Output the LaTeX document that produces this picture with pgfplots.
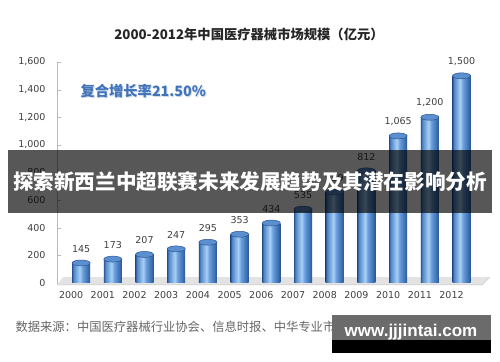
\documentclass[border=0pt]{standalone}
\usepackage{fontspec}
\setmainfont{DejaVu Sans}
\newfontfamily\cjk{Noto Sans CJK SC}
\newfontfamily\wm{Liberation Sans}
\usepackage{pgfplots}
\pgfplotsset{compat=1.18}
\definecolor{cA}{HTML}{2A5591}
\definecolor{cB}{HTML}{4F86C9}
\definecolor{cC}{HTML}{A9D0F5}
\definecolor{cB2}{HTML}{6A9EDC}
\definecolor{cD}{HTML}{3B6DB0}
\definecolor{cTop}{HTML}{5B8FD0}
\definecolor{annblue}{HTML}{4173B8}
\definecolor{lab}{HTML}{404040}
\pgfdeclarehorizontalshading{cyl}{100bp}{color(0bp)=(cA); color(25bp)=(cA); color(29bp)=(cB); color(46bp)=(cC); color(54bp)=(cB2); color(69bp)=(cD); color(75bp)=(cA); color(100bp)=(cA)}
\pgfplotsset{cylbar/.style={ybar, bar width=18bp, bar shift=0pt, draw=none, shading=cyl, forget plot}}
\begin{document}
\begin{tikzpicture}
\path[use as bounding box, fill=white] (0,0) rectangle (500bp,362bp);
\begin{axis}[
  at={(57bp,79bp)}, anchor=south west,
  scale only axis, width=428bp, height=221bp,
  xmin=-0.76, xmax=12.74, ymin=0, ymax=1600,
  clip=false,
  axis lines*=left,
  x axis line style={draw=none},
  y axis line style={draw=gray!55},
  ytick={0,200,...,1600},
  xtick={0,...,12},
  xticklabels={2000,2001,2002,2003,2004,2005,2006,2007,2008,2009,2010,2011,2012},
  major x tick style={draw=none},
  major y tick style={draw=gray!55},
  major tick length=4bp,
  /pgf/number format/assume math mode=true,
  tick label style={font=\fontsize{9.5bp}{11bp}\selectfont, text=lab},
  yticklabel style={xshift=-8bp},
  xticklabel style={xshift=-10bp, yshift=-5bp},
]
\fill[gray!22] (axis cs:-0.57,43) -- (axis cs:12.9,43) -- (axis cs:12.65,-14) -- (axis cs:-0.76,-14) -- cycle;
\draw[gray!45] (axis cs:-0.76,-14) -- (axis cs:12.65,-14) -- (axis cs:12.9,43);
\addplot[cylbar] coordinates {(0,145)};
\addplot[cylbar] coordinates {(1,173)};
\addplot[cylbar] coordinates {(2,207)};
\addplot[cylbar] coordinates {(3,247)};
\addplot[cylbar] coordinates {(4,295)};
\addplot[cylbar] coordinates {(5,353)};
\addplot[cylbar] coordinates {(6,434)};
\addplot[cylbar] coordinates {(7,535)};
\addplot[cylbar] coordinates {(8,659)};
\addplot[cylbar] coordinates {(9,812)};
\addplot[cylbar] coordinates {(10,1065)};
\addplot[cylbar] coordinates {(11,1200)};
\addplot[cylbar] coordinates {(12,1500)};
\addplot[only marks, mark=*, mark size=9bp, mark options={yscale=0.33, fill=cTop, draw=cA, line width=0.5bp},
  nodes near coords, every node near coord/.style={font=\fontsize{9.5bp}{11bp}\selectfont, text=lab, yshift=7bp}]
coordinates {
(0,145) (1,173) (2,207) (3,247) (4,295) (5,353) (6,434) (7,535) (8,659) (9,812) (10,1065) (11,1200) (12,1500)};
\end{axis}
\node[font=\cjk\bfseries\fontsize{13.3bp}{15bp}\selectfont, text=black!85] at (249bp,328bp) {2000-2012年中国医疗器械市场规模（亿元）};
\node[anchor=west, font=\cjk\bfseries\fontsize{14.3bp}{17bp}\selectfont, text=annblue!40, opacity=0.6] at (78bp,269.5bp) {复合增长率21.50\%};
\node[anchor=west, font=\cjk\bfseries\fontsize{14.3bp}{17bp}\selectfont, text=annblue] at (77bp,271bp) {复合增长率21.50\%};
\fill[black, opacity=0.66] (8bp,149bp) rectangle (492bp,212bp);
\node[font=\cjk\bfseries\fontsize{20.6bp}{24bp}\selectfont, text=white, inner sep=0pt] at (250bp,180.5bp) {探索新西兰中超联赛未来发展趋势及其潜在影响分析};
\node[anchor=west, font=\cjk\fontsize{12.3bp}{14bp}\selectfont, text=black!60] at (12bp,35bp) {数据来源：中国医疗器械行业协会、信息时报、中华专业市场网};
\fill[black!58] (332bp,22bp) rectangle (491bp,47bp);
\fill[black] (332bp,9bp) rectangle (491bp,22bp);
\node[font=\wm\bfseries\fontsize{17bp}{19bp}\selectfont, text=white] at (411bp,30bp) {www.jjjintai.com};
\end{tikzpicture}
\end{document}
